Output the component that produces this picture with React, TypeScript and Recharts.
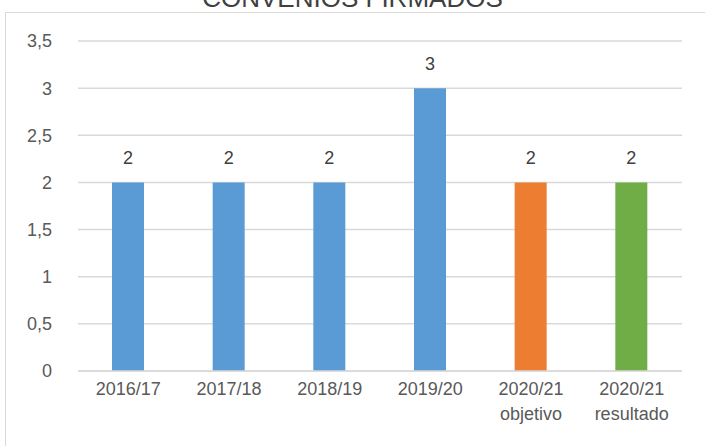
import { BarChart, Bar, XAxis, YAxis, CartesianGrid, Cell, LabelList } from 'recharts';

const categories = ['2016/17', '2017/18', '2018/19', '2019/20', '2020/21\nobjetivo', '2020/21\nresultado'];
const convenios = [2, 2, 2, 3, 2, 2];
const barColors = ['#5B9BD5', '#5B9BD5', '#5B9BD5', '#5B9BD5', '#ED7D31', '#70AD47'];
const yTicks = [0, 0.5, 1, 1.5, 2, 2.5, 3, 3.5];

const data = categories.map((name, i) => ({ name, value: convenios[i] }));

const font = '"Liberation Sans", Arial, sans-serif';
const textColor = '#595959';

const CategoryTick = (props: any) => {
    const { x, y, payload } = props;
    const lines = String(payload.value).split('\n');
    return (
        <text x={x} y={y} textAnchor="middle" fill={textColor} fontSize={18} fontFamily={font}>
            {lines.map((ln, i) => (
                <tspan key={i} x={x} dy={i === 0 ? 22 : 25}>{ln}</tspan>
            ))}
        </text>
    );
};

export default function App() {
    return (
        <div style={{ position: 'absolute', left: 0, top: 0, width: 705, height: 446, overflow: 'hidden', background: '#fff' }}>
            <div style={{ position: 'absolute', left: 5, top: 12, width: 740, height: 480, border: '1.5px solid #D9D9D9' }} />
            <div
                style={{
                    position: 'absolute', left: 0, width: 705, top: -15, textAlign: 'center',
                    fontFamily: font, fontSize: 26, lineHeight: '26px', color: '#404040',
                }}
            >
                CONVENIOS FIRMADOS
            </div>
            <div style={{ position: 'absolute', left: 0, top: 0 }}>
                <BarChart width={705} height={446} data={data} margin={{ top: 41, right: 23, left: 0, bottom: 0 }}>
                    <CartesianGrid vertical={false} stroke="#D9D9D9" strokeWidth={1.5} />
                    <XAxis
                        dataKey="name"
                        height={75}
                        tickLine={false}
                        tickSize={0}
                        axisLine={{ stroke: '#D9D9D9', strokeWidth: 1.5 }}
                        tick={<CategoryTick />}
                        interval={0}
                    />
                    <YAxis
                        width={78}
                        domain={[0, 3.5]}
                        ticks={yTicks}
                        axisLine={false}
                        tickLine={false}
                        tickSize={0}
                        tickMargin={26}
                        tickFormatter={(v: number) => String(v).replace('.', ',')}
                        tick={{ fill: textColor, fontSize: 18, fontFamily: font }}
                    />
                    <Bar dataKey="value" barSize={32} isAnimationActive={false}>
                        {data.map((d, i) => (
                            <Cell key={d.name} fill={barColors[i]} />
                        ))}
                        <LabelList dataKey="value" position="top" offset={18} fill="#404040" fontSize={18} fontFamily={font} />
                    </Bar>
                </BarChart>
            </div>
        </div>
    );
}
